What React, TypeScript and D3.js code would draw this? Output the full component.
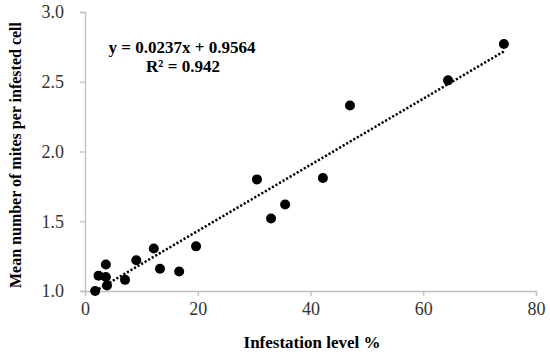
import { useEffect, useRef } from 'react';
import * as d3 from 'd3';

// infestation level (%) and mean mites per infested cell
const infestation = [1.8, 2.4, 3.7, 3.7, 3.9, 7.1, 9.1, 12.2, 13.3, 16.7, 19.7, 30.5, 33.0, 35.5, 42.2, 47.0, 64.4, 74.3];
const mites = [1.0, 1.11, 1.19, 1.1, 1.04, 1.08, 1.22, 1.305, 1.16, 1.14, 1.32, 1.8, 1.52, 1.62, 1.81, 2.33, 2.51, 2.77];

const xTicks = [0, 20, 40, 60, 80];
const yTicks = [1.0, 1.5, 2.0, 2.5, 3.0];

const slope = 0.0237;
const intercept = 0.9564;

const App = () => {
  const svgRef = useRef<SVGSVGElement>(null);

  useEffect(() => {
    if (!svgRef.current) return;
    const svg = d3.select(svgRef.current);
    svg.selectAll('*').remove();

    const width = 550;
    const height = 357;
    svg.attr('width', width).attr('height', height);

    // escalas
    const x = d3.scaleLinear().domain([0, 80]).range([85, 536]);
    const y = d3.scaleLinear().domain([1, 3]).range([291, 12]);

    const axisColor = '#bfbfbf';
    const font = '"Liberation Serif", "Times New Roman", serif';

    // eje x
    const xAxis = svg.append('g')
      .attr('transform', `translate(0,${y(1)})`)
      .call(d3.axisBottom(x).tickValues(xTicks).tickSize(5).tickPadding(6).tickFormat(d3.format('d')));
    xAxis.select('.domain').attr('stroke', axisColor).attr('stroke-width', 1.3);
    xAxis.selectAll('.tick line').attr('stroke', axisColor).attr('stroke-width', 1.3);
    xAxis.selectAll('.tick text')
      .attr('fill', '#333')
      .attr('font-family', font)
      .attr('font-size', 18);

    // eje y
    const yAxis = svg.append('g')
      .attr('transform', `translate(${x(0)},0)`)
      .call(d3.axisLeft(y).tickValues(yTicks).tickSize(5).tickPadding(16).tickFormat(d3.format('.1f')));
    yAxis.select('.domain').attr('stroke', axisColor).attr('stroke-width', 1.3);
    yAxis.selectAll('.tick line').attr('stroke', axisColor).attr('stroke-width', 1.3);
    yAxis.selectAll('.tick text')
      .attr('fill', '#333')
      .attr('font-family', font)
      .attr('font-size', 18);

    // línea de tendencia
    const xMin = d3.min(infestation) as number;
    const xMax = d3.max(infestation) as number;
    const trend: [number, number][] = [xMin, xMax].map(v => [v, slope * v + intercept]);
    svg.append('path')
      .datum(trend)
      .attr('fill', 'none')
      .attr('stroke', '#000')
      .attr('stroke-width', 2.5)
      .attr('stroke-dasharray', '2.2,1.9')
      .attr('d', d3.line<[number, number]>().x(d => x(d[0])).y(d => y(d[1])));

    // puntos
    svg.append('g')
      .selectAll('circle')
      .data(infestation.map((v, i) => [v, mites[i]]))
      .enter().append('circle')
      .attr('cx', d => x(d[0]))
      .attr('cy', d => y(d[1]))
      .attr('r', 5)
      .attr('fill', '#000');

    // ecuación
    const eq = svg.append('g')
      .attr('font-family', font)
      .attr('font-weight', 'bold')
      .attr('font-size', 17)
      .attr('text-anchor', 'middle')
      .attr('fill', '#000');
    eq.append('text').attr('x', 182).attr('y', 53).text('y = 0.0237x + 0.9564');
    eq.append('text').attr('x', 183).attr('y', 72).text('R² = 0.942');

    // títulos de ejes
    svg.append('text')
      .attr('x', 312)
      .attr('y', 348)
      .attr('text-anchor', 'middle')
      .attr('font-family', font)
      .attr('font-weight', 'bold')
      .attr('font-size', 17)
      .text('Infestation level %');

    svg.append('text')
      .attr('transform', `translate(21,155) rotate(-90)`)
      .attr('text-anchor', 'middle')
      .attr('font-family', font)
      .attr('font-weight', 'bold')
      .attr('font-size', 16)
      .text('Mean number of mites per infested cell');
  }, []);

  return <svg ref={svgRef} style={{ position: 'absolute', left: 0, top: 0, background: '#fff' }} />;
};

export default App;
